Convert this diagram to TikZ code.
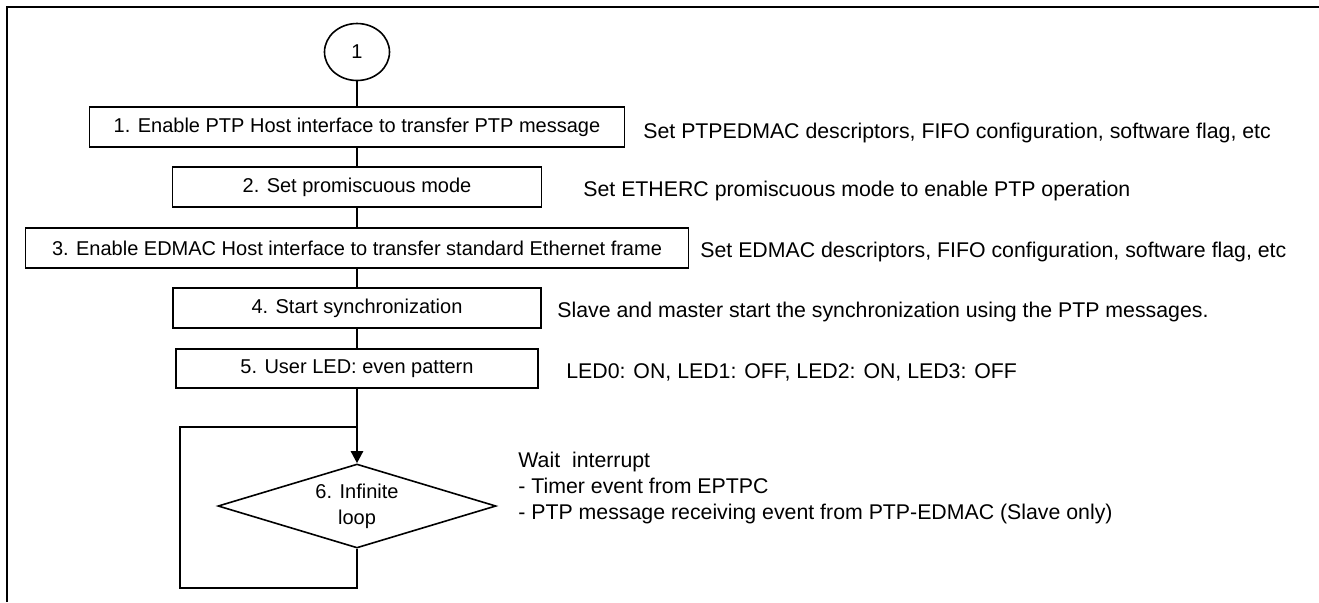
\documentclass[tikz,border=0pt]{standalone}
\usepackage{fontspec}
\setmainfont{Liberation Sans}
\usetikzlibrary{shapes.geometric,arrows.meta}
\begin{document}
\begin{tikzpicture}[x=0.5pt,y=-0.5pt,
  stepbox/.style={draw,line width=0.8pt,inner sep=0pt,minimum height=20pt,
    font=\fontsize{10}{12}\selectfont},
  note/.style={anchor=base west,inner sep=0pt,font=\fontsize{10.65}{13}\selectfont},
  flow/.style={line width=0.8pt}]
\useasboundingbox (0,0) rectangle (1319,602);
% page frame
\draw[line width=1.4pt] (7,602) -- (7,7) -- (1319,7);

% connector symbol
\node[draw,ellipse,line width=0.8pt,inner sep=0pt,minimum width=32.5pt,minimum height=28.5pt,
  font=\fontsize{10}{12}\selectfont] (start) at (357,52) {1};

% processing steps
\node[stepbox,minimum width=267.5pt] (s1) at (357,127) {1. Enable PTP Host interface to transfer PTP message};
\node[stepbox,minimum width=184.5pt] (s2) at (357,187) {2. Set promiscuous mode};
\node[stepbox,minimum width=331.5pt] (s3) at (357,248) {3. Enable EDMAC Host interface to transfer standard Ethernet frame};
\node[stepbox,minimum width=184pt] (s4) at (357,308) {4. Start synchronization};
\node[stepbox,minimum width=181pt,minimum height=19.5pt] (s5) at (357,368.5) {5. User LED: even pattern};
\node[diamond,draw,line width=0.8pt,inner sep=0pt,shape aspect=3.3,minimum width=139pt,minimum height=42pt,
  align=center,font=\fontsize{10}{13}\selectfont] (loop) at (357,506) {\raisebox{-2pt}{6. Infinite}\\\raisebox{-2pt}{loop}};

% notes beside the steps
\node[note] (n1) at (643,138) {Set PTPEDMAC descriptors, FIFO configuration, software flag, etc};
\node[note] (n2) at (583,196.5) {Set ETHERC promiscuous mode to enable PTP operation};
\node[note] (n3) at (700,257.5) {Set EDMAC descriptors, FIFO configuration, software flag, etc};
\node[note] (n4) at (557,317.5) {Slave and master start the synchronization using the PTP messages.};
\node[note] (n5) at (566,378) {LED0: ON, LED1: OFF, LED2: ON, LED3: OFF};
\node[note,anchor=north west,align=left] (n6) at (518,451.5)
  {Wait\ \ interrupt\\- Timer event from EPTPC\\- PTP message receiving event from PTP-EDMAC (Slave only)};

% flow lines
\draw[flow] (start) -- (s1);
\draw[flow] (s1) -- (s2);
\draw[flow] (s2) -- (s3);
\draw[flow] (s3) -- (s4);
\draw[flow] (s4) -- (s5);
\draw[flow,line width=1.2pt,-{Triangle[length=6pt,width=6pt]}] (s5) -- (loop);
\coordinate (join) at (357,427);
\coordinate (back) at (180,588);
\draw[flow] (loop.south) |- (back) |- (join);
\end{tikzpicture}
\end{document}
